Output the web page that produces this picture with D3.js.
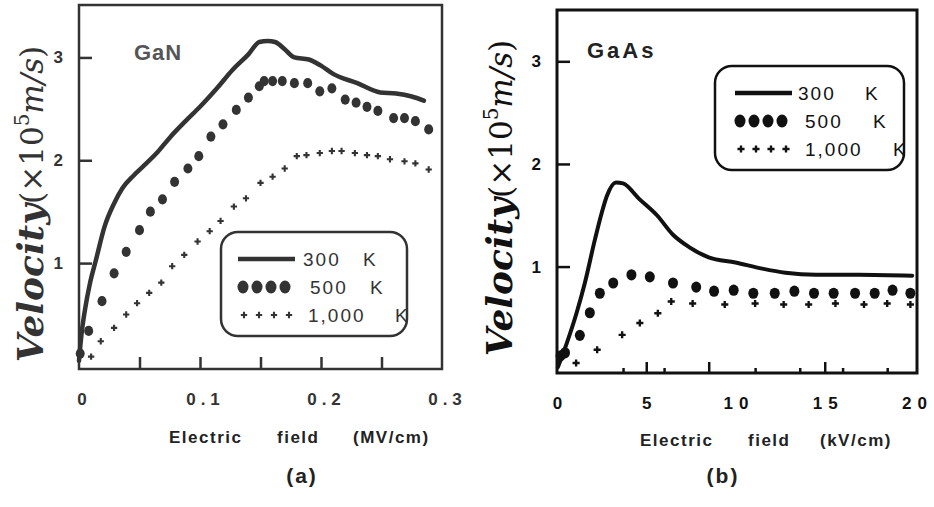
<!DOCTYPE html>
<html>
<head>
<meta charset="utf-8">
<script src="https://cdn.jsdelivr.net/npm/d3@7"></script>
<style>
  body { margin: 0; background: #fff; }
  svg { display: block; }
</style>
</head>
<body>
<svg id="chart" width="934" height="507"></svg>
<script>
// GaN, electric field in MV/cm, velocity in 1e5 m/s
let ganField300 = [0, 0.002, 0.005, 0.009, 0.014, 0.021, 0.029, 0.036, 0.045, 0.053, 0.065, 0.075, 0.088, 0.1, 0.114, 0.127, 0.14, 0.149, 0.156, 0.162, 0.17, 0.178, 0.19, 0.2, 0.21, 0.23, 0.249, 0.262, 0.275, 0.285];
let ganVel300 = [0.05, 0.3, 0.55, 0.8, 1.03, 1.35, 1.58, 1.73, 1.85, 1.94, 2.08, 2.22, 2.38, 2.52, 2.7, 2.88, 3.03, 3.15, 3.16, 3.15, 3.08, 3.0, 2.98, 2.92, 2.84, 2.75, 2.66, 2.65, 2.62, 2.58];
let ganField500 = [0.001, 0.008, 0.019, 0.029, 0.039, 0.05, 0.059, 0.069, 0.079, 0.09, 0.099, 0.109, 0.119, 0.13, 0.14, 0.149, 0.153, 0.16, 0.168, 0.178, 0.189, 0.199, 0.209, 0.22, 0.229, 0.238, 0.247, 0.26, 0.269, 0.278, 0.289];
let ganVel500 = [0.12, 0.34, 0.63, 0.9, 1.11, 1.32, 1.5, 1.62, 1.79, 1.92, 2.04, 2.23, 2.35, 2.49, 2.61, 2.72, 2.77, 2.77, 2.77, 2.75, 2.75, 2.67, 2.7, 2.59, 2.56, 2.52, 2.48, 2.41, 2.41, 2.38, 2.3];
let ganField1000 = [0.01, 0.018, 0.029, 0.039, 0.048, 0.058, 0.068, 0.077, 0.087, 0.098, 0.108, 0.117, 0.128, 0.138, 0.15, 0.16, 0.17, 0.18, 0.188, 0.199, 0.209, 0.217, 0.228, 0.238, 0.247, 0.257, 0.269, 0.278, 0.289];
let ganVel1000 = [0.09, 0.24, 0.37, 0.5, 0.61, 0.71, 0.81, 0.97, 1.08, 1.21, 1.31, 1.41, 1.55, 1.63, 1.78, 1.84, 1.92, 2.04, 2.05, 2.07, 2.09, 2.09, 2.07, 2.05, 2.04, 2.01, 1.99, 1.97, 1.91];

// GaAs, electric field in kV/cm
let gaasField300 = [0.05, 0.54, 1.1, 1.56, 2.12, 2.5, 2.8, 3.3, 3.7, 4.6, 5.6, 6.5, 7.4, 8.5, 10.0, 11.5, 12.8, 14.5, 16.9, 19.9];
let gaasVel300 = [0.02, 0.25, 0.55, 0.84, 1.26, 1.52, 1.69, 1.82, 1.81, 1.66, 1.5, 1.31, 1.19, 1.09, 1.04, 0.98, 0.94, 0.92, 0.92, 0.91];
let gaasField500 = [0.2, 0.45, 1.28, 1.84, 2.4, 3.15, 4.17, 5.2, 6.5, 7.8, 8.8, 9.9, 11.0, 12.2, 13.3, 14.4, 15.5, 16.7, 17.8, 18.8, 19.8];
let gaasVel500 = [0.13, 0.16, 0.33, 0.55, 0.74, 0.84, 0.92, 0.9, 0.84, 0.8, 0.76, 0.77, 0.74, 0.74, 0.76, 0.74, 0.74, 0.74, 0.74, 0.77, 0.74];
let gaasField1000 = [1.07, 2.25, 3.65, 4.64, 5.65, 6.4, 7.6, 9.4, 11.1, 12.7, 14.1, 15.6, 17.2, 18.5, 19.8];
let gaasVel1000 = [0.06, 0.19, 0.335, 0.45, 0.545, 0.66, 0.64, 0.63, 0.64, 0.63, 0.63, 0.64, 0.63, 0.64, 0.63];

// ticks and labels
let velTicks = [1, 2, 3];
let ganXTicks = [0, 0.1, 0.2, 0.3];
let ganXLabels = ["0", "0.1", "0.2", "0.3"];
let ganXMarks = [0.05, 0.1, 0.15, 0.2, 0.25];
let gaasXTicks = [0, 5, 10, 15, 20];
let gaasXLabels = ["0", "5", "10", "15", "20"];
let gaasMajorMarks = [5, 8.5, 15];
let gaasMinorMarks = [3.7, 6, 11.1, 13.6, 16, 18.5];
let legendTemps = ["300", "500", "1,000"];

const SANS = "'Liberation Sans', Arial, sans-serif";
const SERIF = "'DejaVu Serif', serif";

function drawPanel(svg, p) {
    let g = svg.append("g");
    let scaleX = d3.scaleLinear().domain(p.xDomain).range([p.left, p.right]);
    let scaleY = d3.scaleLinear().domain(p.yDomain).range([p.bottom, p.top]);

    // рамка
    g.append("rect")
        .attr("x", p.left).attr("y", p.top)
        .attr("width", p.right - p.left).attr("height", p.bottom - p.top)
        .attr("fill", "none").attr("stroke", p.color).attr("stroke-width", p.frameWidth);

    // ось OY, засечки внутрь
    let gy = g.append("g")
        .attr("transform", `translate(${p.left},0)`)
        .call(d3.axisLeft(scaleY).tickValues(velTicks).tickFormat(d3.format("d"))
            .tickSizeInner(-13).tickSizeOuter(0).tickPadding(16));
    gy.select(".domain").remove();
    gy.selectAll("line").attr("stroke", p.color).attr("stroke-width", 2.5);
    gy.attr("font-family", SANS).attr("font-size", 17);
    gy.selectAll("text").attr("font-weight", "bold").attr("fill", p.color);

    // подписи оси OX
    let gx = g.append("g")
        .attr("transform", `translate(0,${p.bottom})`)
        .call(d3.axisBottom(scaleX).tickValues(p.xTicks).tickFormat((d, i) => p.xLabels[i]).tickSize(0).tickPadding(24));
    gx.select(".domain").remove();
    gx.attr("font-family", SANS).attr("font-size", 17);
    gx.selectAll("text")
        .attr("font-weight", "bold").attr("fill", p.color)
        .attr("letter-spacing", p.labelSpacing).attr("dx", p.labelDx);

    // засечки оси OX
    for (let m of p.marks) {
        let gm = g.append("g")
            .attr("transform", `translate(0,${p.bottom})`)
            .call(d3.axisBottom(scaleX).tickValues(m.values).tickSizeInner(-m.len).tickSizeOuter(0).tickFormat(""));
        gm.select(".domain").remove();
        gm.selectAll("line").attr("stroke", p.color).attr("stroke-width", 2.5);
    }

    // 300 K - линия
    let line = d3.line()
        .x(d => scaleX(d[0]))
        .y(d => scaleY(d[1]))
        .curve(d3.curveMonotoneX);
    g.append("path")
        .datum(d3.zip(p.field300, p.vel300))
        .attr("d", line)
        .attr("fill", "none").attr("stroke", p.color).attr("stroke-width", p.lineWidth)
        .attr("stroke-linejoin", "round").attr("stroke-linecap", "round");

    // 500 K - точки
    g.selectAll(".dot")
        .data(d3.zip(p.field500, p.vel500))
        .enter()
        .append("ellipse")
        .attr("cx", d => scaleX(d[0]))
        .attr("cy", d => scaleY(d[1]))
        .attr("rx", p.dotR).attr("ry", p.dotR + 0.6)
        .attr("fill", p.color);

    // 1000 K - крестики
    let cross = d3.symbol(d3.symbolCross, p.crossSize);
    g.selectAll(".cross")
        .data(d3.zip(p.field1000, p.vel1000))
        .enter()
        .append("path")
        .attr("d", cross)
        .attr("transform", d => `translate(${scaleX(d[0])},${scaleY(d[1])})`)
        .attr("fill", p.color);

    // название материала
    g.append("text")
        .attr("x", p.nameX).attr("y", p.nameY)
        .attr("font-family", SANS).attr("font-size", 22).attr("font-weight", "bold")
        .attr("letter-spacing", p.nameSpacing)
        .attr("fill", p.nameColor)
        .text(p.name);

    // легенда
    let lg = g.append("g").attr("transform", `translate(${p.legendX},${p.legendY})`);
    lg.append("rect")
        .attr("width", p.legendW).attr("height", 104).attr("rx", 17)
        .attr("fill", "none").attr("stroke", p.color).attr("stroke-width", 2.5);
    let rowY = [27, 55, 83];
    lg.append("line")
        .attr("x1", p.sampleX).attr("x2", p.sampleX + 57)
        .attr("y1", rowY[0]).attr("y2", rowY[0])
        .attr("stroke", p.color).attr("stroke-width", 4.5);
    for (let i = 0; i < 4; i++) {
        lg.append("ellipse")
            .attr("cx", p.sampleX + 5 + i * 14).attr("cy", rowY[1])
            .attr("rx", 5.5).attr("ry", 6.5).attr("fill", p.color);
        lg.append("path")
            .attr("d", cross)
            .attr("transform", `translate(${p.sampleX + 6 + i * 15},${rowY[2]})`)
            .attr("fill", p.color);
    }
    legendTemps.forEach((t, i) => {
        lg.append("text")
            .attr("x", p.tempX[i]).attr("y", rowY[i] + 7)
            .attr("font-family", SANS).attr("font-size", 19).attr("letter-spacing", 2)
            .attr("fill", p.color).text(t);
        lg.append("text")
            .attr("x", p.kX[i]).attr("y", rowY[i] + 7)
            .attr("font-family", SANS).attr("font-size", 19)
            .attr("fill", p.color).text("K");
    });

    // подпись оси OY
    let title = svg.append("text")
        .attr("transform", `translate(${p.titleX},${p.titleY}) rotate(-90)`)
        .attr("text-anchor", "middle")
        .attr("font-family", SERIF)
        .attr("fill", p.color);
    title.append("tspan").attr("font-weight", "bold").attr("font-style", "italic").attr("font-size", 36).text("Velocity");
    title.append("tspan").attr("font-size", 31).text("(×10");
    title.append("tspan").attr("font-size", 20).attr("dy", -14).text("5");
    title.append("tspan").attr("font-size", 31).attr("font-style", "italic").attr("dy", 14).text("m/s");
    title.append("tspan").attr("font-size", 31).text(")");

    // подпись оси OX
    p.fieldWords.forEach(w => {
        svg.append("text")
            .attr("x", w.x).attr("y", p.fieldY)
            .attr("font-family", SANS).attr("font-size", 17).attr("font-weight", "bold")
            .attr("letter-spacing", 1.5)
            .attr("fill", "#222").text(w.t);
    });
    svg.append("text")
        .attr("x", p.panelX).attr("y", p.panelY)
        .attr("text-anchor", "middle")
        .attr("font-family", SANS).attr("font-size", 21).attr("font-weight", "bold")
        .attr("letter-spacing", 2)
        .attr("fill", "#222").text(p.panel);
}

function drawChart() {
    let svg = d3.select("#chart");
    svg.selectAll("*").remove();

    drawPanel(svg, {
        left: 79, right: 442, top: 5, bottom: 369,
        xDomain: [0, 0.3], yDomain: [-0.03, 3.51],
        color: "#333", frameWidth: 2.5, lineWidth: 4.5, dotR: 4.5, crossSize: 22,
        xTicks: ganXTicks, xLabels: ganXLabels, labelSpacing: 5, labelDx: 5,
        marks: [{ values: ganXMarks, len: 12 }],
        field300: ganField300, vel300: ganVel300,
        field500: ganField500, vel500: ganVel500,
        field1000: ganField1000, vel1000: ganVel1000,
        name: "GaN", nameX: 134, nameY: 60, nameSpacing: 1, nameColor: "#555",
        legendX: 221, legendY: 232, legendW: 186, sampleX: 17,
        tempX: [82, 89, 87], kX: [142, 149, 174],
        titleX: 43, titleY: 204,
        fieldWords: [{ t: "Electric", x: 169 }, { t: "field", x: 277 }, { t: "(MV/cm)", x: 353 }],
        fieldY: 443,
        panel: "(a)", panelX: 302, panelY: 483
    });

    drawPanel(svg, {
        left: 557, right: 917, top: 10, bottom: 373,
        xDomain: [0, 20.17], yDomain: [-0.037, 3.5],
        color: "#111", frameWidth: 3, lineWidth: 4, dotR: 5, crossSize: 28,
        xTicks: gaasXTicks, xLabels: gaasXLabels, labelSpacing: 6, labelDx: 3,
        marks: [{ values: gaasMajorMarks, len: 11 }, { values: gaasMinorMarks, len: 5 }],
        field300: gaasField300, vel300: gaasVel300,
        field500: gaasField500, vel500: gaasVel500,
        field1000: gaasField1000, vel1000: gaasVel1000,
        name: "GaAs", nameX: 587, nameY: 58, nameSpacing: 3, nameColor: "#222",
        legendX: 715, legendY: 66, legendW: 189, sampleX: 20,
        tempX: [83, 90, 90], kX: [150, 158, 178],
        titleX: 512, titleY: 198,
        fieldWords: [{ t: "Electric", x: 640 }, { t: "field", x: 748 }, { t: "(kV/cm)", x: 820 }],
        fieldY: 446,
        panel: "(b)", panelX: 723, panelY: 483
    });
}

drawChart();
</script>
</body>
</html>
